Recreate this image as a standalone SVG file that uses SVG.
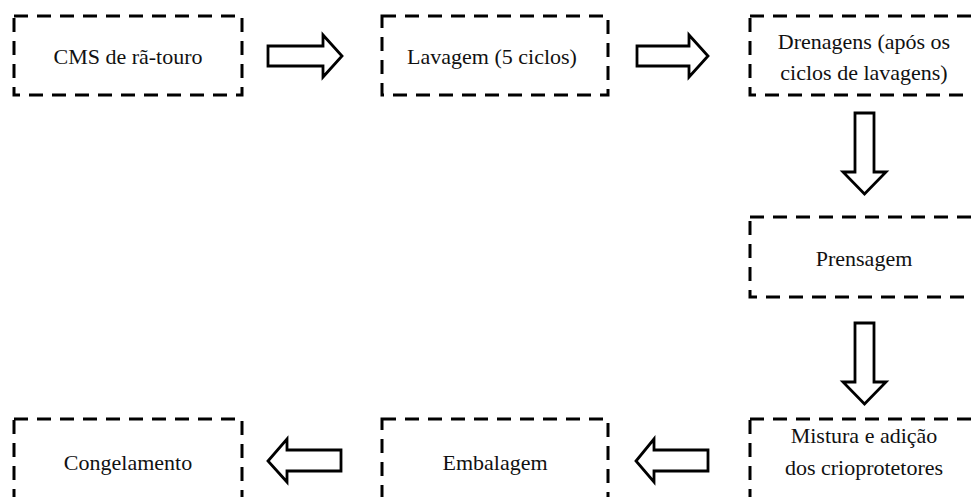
<svg xmlns="http://www.w3.org/2000/svg" width="972" height="497" viewBox="0 0 972 497">
<style>
.box{fill:none;stroke:#000;stroke-width:3;stroke-dasharray:14 9}
.arr{fill:#fff;stroke:#000;stroke-width:2.8}
</style>
<rect width="972" height="497" fill="#fff"/>
<g font-family="Liberation Serif" font-size="22" fill="#111" text-anchor="middle">
<g id="n1"><rect class="box" x="14" y="16" width="228" height="79"/><text x="128" y="64">CMS de rã-touro</text></g>
<g id="n2"><rect class="box" x="382" y="16" width="226" height="79"/><text x="492" y="64">Lavagem (5 ciclos)</text></g>
<g id="n3"><rect class="box" x="750" y="16" width="228" height="79"/><text x="864" y="49">Drenagens (após os</text><text x="864" y="80">ciclos de lavagens)</text></g>
<g id="n4"><rect class="box" x="750" y="217" width="228" height="80"/><text x="864" y="266">Prensagem</text></g>
<g id="n5"><rect class="box" x="750" y="419" width="228" height="90"/><text x="864" y="443">Mistura e adição</text><text x="864" y="475">dos crioprotetores</text></g>
<g id="n6"><rect class="box" x="382" y="419" width="226" height="90"/><text x="495" y="470">Embalagem</text></g>
<g id="n7"><rect class="box" x="14" y="419" width="228" height="90"/><text x="128" y="470">Congelamento</text></g>
</g>
<g id="connectors">
<polygon class="arr" points="268,46 323,46 323,35 342,56 323,77 323,66 268,66"/>
<polygon class="arr" points="637,46 689,46 689,35 708,56 689,77 689,66 637,66"/>
<polygon class="arr" points="855,113 874,113 874,172 886,172 864.5,194 843,172 855,172"/>
<polygon class="arr" points="855,323 874,323 874,382 886,382 864.5,404 843,382 855,382"/>
<polygon class="arr" points="708,450 654,450 654,439 636,461 654,482 654,471 708,471"/>
<polygon class="arr" points="341,450 287,450 287,439 268,461 287,482 287,471 341,471"/>
</g>
</svg>
